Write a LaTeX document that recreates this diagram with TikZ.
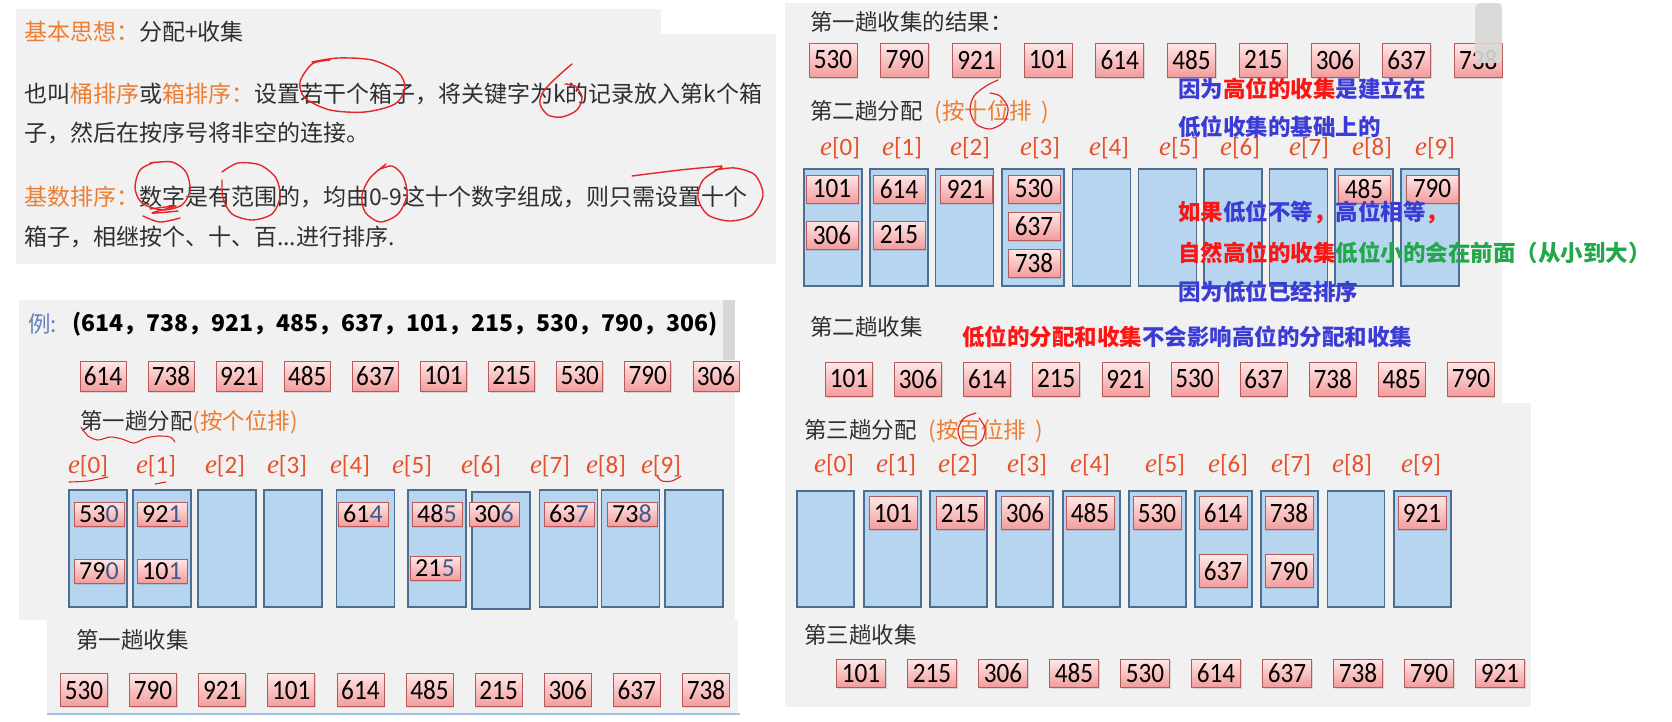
\documentclass[tikz,border=0pt]{standalone}
\usepackage{fontspec}
\usetikzlibrary{shadows}
\newfontfamily\cjk{Noto Sans CJK SC}
\newfontfamily\numf{Carlito}
\newfontfamily\numn[FakeStretch=0.9]{Carlito}
\newfontfamily\serf{Liberation Serif}
\definecolor{panel}{HTML}{F1F1F1}
\definecolor{orng}{HTML}{ED7D31}
\definecolor{dtext}{HTML}{2F2F2F}
\definecolor{ered}{HTML}{E8502A}
\definecolor{binfill}{HTML}{B8D5F0}
\definecolor{binline}{HTML}{4B6E95}
\definecolor{boxtop}{HTML}{FFE8E8}
\definecolor{boxbot}{HTML}{F39C9C}
\definecolor{boxline}{HTML}{B65A5A}
\definecolor{nblue}{HTML}{3B3BD6}
\definecolor{nred}{HTML}{FF1414}
\definecolor{ngreen}{HTML}{22A84A}
\definecolor{lblue}{HTML}{5F84BE}
\definecolor{digblue}{HTML}{3E5A8C}
\definecolor{scrollc}{HTML}{D9D7D5}
\definecolor{penred}{HTML}{E3262A}
\definecolor{edgeblue}{HTML}{9DC3E6}
\newcommand\elabtext[1]{{\serf\itshape\fontsize{27}{27}\selectfont e}[#1]}
\newcommand\lastdig[1]{\textcolor{digblue}{#1}}
\tikzset{
 panelbg/.style={fill=panel, draw=none},
 numbox/.style={draw=boxline, line width=0.8pt, top color=boxtop, bottom color=boxbot, inner sep=0pt, text=black,
   font=\numn\fontsize{28}{28}\selectfont, drop shadow={shadow xshift=1pt, shadow yshift=-1.5pt, opacity=0.25}},
 smallnum/.style={font=\numf\fontsize{26}{26}\selectfont},
 bin/.style={draw=binline, fill=binfill, line width=1.3pt, inner sep=0pt},
 elab/.style={text=ered, font=\numf\fontsize{25}{25}\selectfont, inner sep=0pt},
 ctx/.style={anchor=west, inner sep=0pt, font=\cjk\fontsize{22.5}{22.5}\selectfont, text=dtext},
 atx/.style={anchor=west, inner sep=0pt, font=\cjk\fontsize{23}{23}\selectfont, text=dtext},
 btx/.style={anchor=west, inner sep=0pt, font=\cjk\bfseries\fontsize{22.5}{22.5}\selectfont},
 scribble/.style={draw=penred, line width=1.4pt, line cap=round, line join=round},
}
\begin{document}
\begin{tikzpicture}[x=1pt,y=-1pt]
\useasboundingbox (0,0) rectangle (1672,721);
\fill[white] (0,0) rectangle (1672,721);
% ---------------- panels
\fill[panelbg] (16,9) rectangle (661,34);
\fill[panelbg] (16,34) rectangle (776,264);
\fill[panelbg] (19,300) rectangle (735,620);
\fill[panelbg] (47,620) rectangle (738,713);
\fill[edgeblue] (47,713) rectangle (740,715);
\fill[panelbg] (785,3) rectangle (1502,403);
\fill[panelbg] (785,403) rectangle (1531,707);

% ---------------- panel A
\node[atx] (a1) at (24,32) {\textcolor{orng}{基本思想：}分配+收集};
\node[atx] (a2) at (24,94) {也叫\textcolor{orng}{桶排序}或\textcolor{orng}{箱排序：}设置若干个箱子，将关键字为k的记录放入第k个箱};
\node[atx] (a3) at (24,133) {子，然后在按序号将非空的连接。};
\node[atx] (a4) at (24,197) {\textcolor{orng}{基数排序：}数字是有范围的，均由0-9这十个数字组成，则只需设置十个};
\node[atx] (a5) at (24,237) {箱子，相继按个、十、百...进行排序.};
% scribbles
\draw[scribble] plot[smooth] coordinates {(312,62)(338,58)(372,60)(398,72)(405,88)(395,104)(365,112)(330,110)(305,98)(300,82)(312,64)(330,60)};
\draw[scribble] plot[smooth] coordinates {(572,64)(556,78)(543,92)(540,104)(548,115)(562,117)(577,110)(582,97)(575,86)(565,84)};
\draw[scribble] plot[smooth] coordinates {(150,163)(172,162)(186,172)(190,190)(182,205)(162,210)(142,203)(135,188)(140,170)(155,162)};
\draw[scribble] plot[smooth] coordinates {(150,209)(176,206)(152,213)(178,211)};
\draw[scribble] plot[smooth] coordinates {(143,216)(160,222)(180,218)};
\draw[scribble] plot[smooth] coordinates {(222,172)(238,163)(260,165)(276,178)(280,197)(272,214)(252,220)(232,214)(223,198)(222,180)};
\draw[scribble] plot[smooth] coordinates {(386,164)(370,178)(362,195)(365,212)(380,222)(398,214)(407,195)(403,176)(392,166)(378,170)};
\draw[scribble] plot[smooth] coordinates {(632,176)(680,170)(722,166)};
\draw[scribble] plot[smooth] coordinates {(722,167)(703,180)(698,198)(708,215)(730,221)(752,215)(763,195)(755,175)(735,168)(715,170)};

% ---------------- panel B
\fill[scrollc] (723,300) rectangle (735,360);
\node[ctx, text=lblue] (ex) at (28,324) {例:};
\node[btx, text=black, font=\cjk\bfseries\fontsize{23}{23}\selectfont] (exlist) at (72,324) {(614，738，921，485，637，101，215，530，790，306)};
\foreach \v [count=\i from 0] in {614,738,921,485,637,101,215,530,790,306}
  \node[numbox, minimum width=46, minimum height=30] (L1-\i) at ({103+68.1*\i},376) {\v};
\node[ctx] (p1t) at (80,422) {第一趟分配\textcolor{orng}{(按个位排)}};
\draw[scribble, line width=1.1pt] plot[smooth] coordinates {(81,427)(88,436)(98,440)(110,437)(122,439)(134,443)(146,438)(158,436)(170,437)(175,442)};
\foreach \x [count=\i from 0] in {88,156,225,287,350,412,481,550,606,661}
  \node[elab] (eL-\i) at (\x,466) {\elabtext{\i}};
\draw[scribble, line width=1.1pt] plot[smooth] coordinates {(69,482)(88,481)(108,477)};
\draw[scribble, line width=1.1pt] (155,484) -- (166,482);
\draw[scribble, line width=1.1pt] plot[smooth] coordinates {(657,476)(662,481)(672,481)(681,476)};
\foreach \x [count=\i from 0] in {98,162,227,293,365.5,437,501,568.5,630.5,694}
  \node[bin, minimum width=58, minimum height=117] (bL-\i) at (\x,{\i==6 ? 550.5 : 548.5}) {};
\node[numbox, smallnum, minimum width=50, minimum height=24] (q1) at (99,514) {53\lastdig{0}};
\node[numbox, smallnum, minimum width=50, minimum height=24] (q2) at (99,571) {79\lastdig{0}};
\node[numbox, smallnum, minimum width=50, minimum height=24] (q3) at (162,514) {92\lastdig{1}};
\node[numbox, smallnum, minimum width=50, minimum height=24] (q4) at (162,571) {10\lastdig{1}};
\node[numbox, smallnum, minimum width=50, minimum height=24] (q5) at (363,514) {61\lastdig{4}};
\node[numbox, smallnum, minimum width=50, minimum height=24] (q6) at (437,514) {48\lastdig{5}};
\node[numbox, smallnum, minimum width=50, minimum height=24] (q7) at (435,568) {21\lastdig{5}};
\node[numbox, smallnum, minimum width=50, minimum height=24] (q8) at (494,514) {30\lastdig{6}};
\node[numbox, smallnum, minimum width=50, minimum height=24] (q9) at (569,514) {63\lastdig{7}};
\node[numbox, smallnum, minimum width=50, minimum height=24] (q10) at (632,514) {73\lastdig{8}};
% ---------------- panel C
\node[ctx] (c1t) at (76,640) {第一趟收集};
\foreach \v [count=\i from 0] in {530,790,921,101,614,485,215,306,637,738}
  \node[numbox, minimum width=47, minimum height=33] (L3-\i) at ({84+69.1*\i},690) {\v};

% ---------------- panel D
\node[ctx] (d1t) at (810,22) {第一趟收集的结果：};
\foreach \v [count=\i from 0] in {530,790,921,101,614,485,215,306,637,738}
  \node[numbox, minimum width=48, minimum height=34] (D1-\i) at ({833+71.7*\i},60) {\v};
\fill[scrollc, opacity=0.92, rounded corners=6pt] (1475,3) rectangle (1502,63);
\node[ctx] (d2t) at (810,112) {第二趟分配\hspace{12pt}\textcolor{orng}{(按十位排\hspace{9pt})}};
\draw[scribble, line width=1.2pt] plot[smooth] coordinates {(998,80)(986,86)(974,96)(970,110)(976,124)(990,129)(1004,122)(1008,108)(1000,96)(990,93)};
\foreach \x [count=\i from 0] in {840,902,970,1040,1109,1179,1240,1309,1372,1435}
  \node[elab] (eD-\i) at (\x,148) {\elabtext{\i}};
\foreach \x [count=\i from 0] in {833,899,964.5,1033,1101.5,1167.5,1233,1298.5,1364,1430}
  \node[bin, minimum width={\i==3 ? 62 : 58}, minimum height=117] (bD-\i) at (\x,227.5) {};
\foreach \v/\x/\y [count=\i] in {101/832/189,306/832/235,614/899/189,215/899/235,921/966/189,530/1034/189,637/1034/226,738/1034/263,485/1364/189,790/1432/189}
  \node[numbox, minimum width=52, minimum height=28] (D2-\i) at (\x,\y) {\v};
\node[btx] (n1) at (1178,89) {\textcolor{nblue}{因为}\textcolor{nred}{高位的收集}\textcolor{nblue}{是建立在}};
\node[btx, text=nblue] (n2) at (1178,127) {低位收集的基础上的};
\node[btx] (n3) at (1178,212) {\textcolor{nred}{如果}\textcolor{nblue}{低位不等}\textcolor{nred}{，}\textcolor{nblue}{高位相等}\textcolor{nred}{，}};
\node[btx] (n4) at (1178,253) {\textcolor{nred}{自然高位的收集}\textcolor{ngreen}{低位小的会在前面（从小到大）}};
\node[btx, text=nblue] (n5) at (1178,292) {因为低位已经排序};
\node[ctx] (d3t) at (810,327) {第二趟收集};
\node[btx] (n6) at (962,337) {\textcolor{nred}{低位的分配和收集}\textcolor{nblue}{不会影响高位的分配和收集}};
\foreach \v [count=\i from 0] in {101,306,614,215,921,530,637,738,485,790}
  \node[numbox, minimum width=47, minimum height=34] (D3-\i) at ({849+69.1*\i},379) {\v};

% ---------------- panel E
\node[ctx] (e1t) at (804,431) {第三趟分配\hspace{12pt}\textcolor{orng}{(按百位排\hspace{9pt})}};
\draw[scribble, line width=1.2pt] plot[smooth] coordinates {(976,413)(964,418)(958,430)(962,442)(972,446)(982,440)(985,428)(979,418)};
\foreach \x [count=\i from 0] in {834,896,958,1027,1090,1165,1228,1291,1352,1421}
  \node[elab] (eE-\i) at (\x,465) {\elabtext{\i}};
\foreach \x [count=\i from 0] in {825.5,892.5,958.5,1024.5,1091.5,1157.5,1223.5,1289.5,1356,1422.5}
  \node[bin, minimum width=57, minimum height=116] (bE-\i) at (\x,549) {};
\foreach \v/\x/\y [count=\i] in {101/893/513,215/960/513,306/1025/513,485/1090/513,530/1157/513,614/1223/513,738/1289/513,921/1422/513,637/1223/571,790/1289/571}
  \node[numbox, minimum width=48, minimum height=33] (E2-\i) at (\x,\y) {\v};
\node[ctx] (e3t) at (804,635) {第三趟收集};
\foreach \v [count=\i from 0] in {101,215,306,485,530,614,637,738,790,921}
  \node[numbox, minimum width=49, minimum height=28] (E3-\i) at ({861+71*\i},673) {\v};
\end{tikzpicture}
\end{document}
